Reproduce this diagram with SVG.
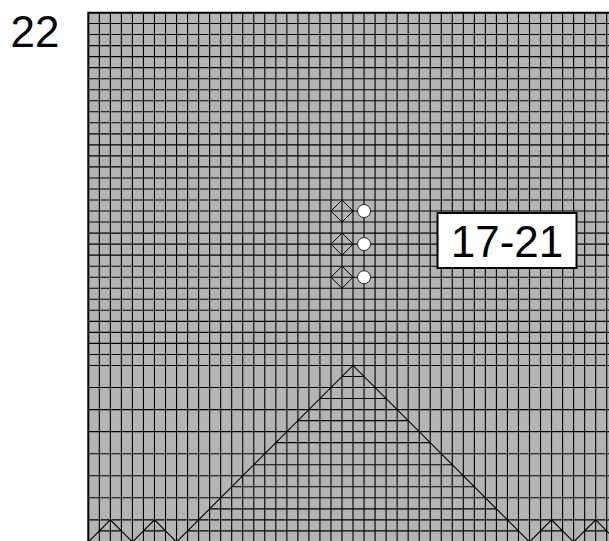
<svg xmlns="http://www.w3.org/2000/svg" width="609" height="541" viewBox="0 0 609 541">
<style>
.grid{fill:none;stroke:#000;stroke-width:1.1}
.tri{fill:none;stroke:#000;stroke-width:1.1}
.border{fill:none;stroke:#000;stroke-width:2}
.dia{fill:none;stroke:#000;stroke-width:1}
.dot{fill:#fff;stroke:#222;stroke-width:1}
.lbl{font-family:"Liberation Sans",Arial,sans-serif;fill:#000}
</style>
<rect width="609" height="541" fill="#fff"/>
<g id="chart">
<rect x="88.3" y="12.5" width="530" height="540" fill="#b4b4b4"/>
<path class="grid" d="M99.33 12.5V542M110.36 12.5V542M121.39 12.5V542M132.42 12.5V542M143.45 12.5V542M154.48 12.5V542M165.51 12.5V542M176.54 12.5V542M187.57 12.5V542M198.6 12.5V542M209.63 12.5V542M220.66 12.5V542M231.69 12.5V542M242.72 12.5V542M253.75 12.5V542M264.78 12.5V542M275.81 12.5V542M286.84 12.5V542M297.87 12.5V542M308.9 12.5V542M319.93 12.5V542M330.96 12.5V542M341.99 12.5V542M353.02 12.5V542M364.05 12.5V542M375.08 12.5V542M386.11 12.5V542M397.14 12.5V542M408.17 12.5V542M419.2 12.5V542M430.23 12.5V542M441.26 12.5V542M452.29 12.5V542M463.32 12.5V542M474.35 12.5V542M485.38 12.5V542M496.41 12.5V542M507.44 12.5V542M518.47 12.5V542M529.5 12.5V542M540.53 12.5V542M551.56 12.5V542M562.59 12.5V542M573.62 12.5V542M584.65 12.5V542M595.68 12.5V542M606.71 12.5V542"/>
<path class="grid" d="M88.3 23.53H609M88.3 34.56H609M88.3 45.59H609M88.3 56.62H609M88.3 67.65H609M88.3 78.68H609M88.3 89.71H609M88.3 100.74H609M88.3 111.77H609M88.3 122.8H609M88.3 133.83H609M88.3 144.86H609M88.3 155.89H609M88.3 166.92H609M88.3 177.95H609M88.3 188.98H609M88.3 200.01H609M88.3 211.04H609M88.3 222.07H609M88.3 233.1H609M88.3 244.13H609M88.3 255.16H609M88.3 266.19H609M88.3 277.22H609M88.3 288.25H609M88.3 299.28H609M88.3 310.31H609M88.3 321.34H609M88.3 332.37H609M88.3 343.4H609M88.3 354.43H609M88.3 365.46H609M88.3 387.52H609M88.3 409.58H609M88.3 431.64H609M88.3 453.7H609M88.3 475.76H609M88.3 497.82H609M88.3 519.88H609"/>
<path class="grid" d="M341.99 376.49H364.05M319.93 398.55H386.11M297.87 420.61H408.17M275.81 442.67H430.23M253.75 464.73H452.29M231.69 486.79H474.35M209.63 508.85H496.41M187.57 530.91H518.47M99.33 530.91H121.39M143.45 530.91H165.51M540.53 530.91H562.59M584.65 530.91H606.71"/>
<path class="border" d="M88.3 542V12.8H609"/>
</g>
<g id="connectors">
<path class="tri" d="M176.54 541.94L353.02 365.46L529.5 541.94"/>
<path class="tri" d="M88.3 541.94L110.36 519.88L132.42 541.94L154.48 519.88L176.54 541.94"/>
<path class="tri" d="M529.5 541.94L551.56 519.88L573.62 541.94L595.68 519.88L617.74 541.94"/>
</g>
<g id="marker-row-1">
<path class="dia" d="M341.99 200.01L353.02 211.04L341.99 222.07L330.96 211.04Z"/>
<circle class="dot" cx="364.05" cy="211.04" r="6.5"/>
</g>
<g id="marker-row-2">
<path class="dia" d="M341.99 233.1L353.02 244.13L341.99 255.16L330.96 244.13Z"/>
<circle class="dot" cx="364.05" cy="244.13" r="6.5"/>
</g>
<g id="marker-row-3">
<path class="dia" d="M341.99 266.19L353.02 277.22L341.99 288.25L330.96 277.22Z"/>
<circle class="dot" cx="364.05" cy="277.22" r="6.5"/>
</g>
<g id="label-17-21">
<rect x="437.5" y="213" width="139" height="55" fill="#fff" stroke="#000" stroke-width="2"/>
<text class="lbl" x="507" y="256.5" font-size="44" text-anchor="middle">17-21</text>
</g>
<g id="label-22">
<text class="lbl" x="10.5" y="47" font-size="44">22</text>
</g>
</svg>
